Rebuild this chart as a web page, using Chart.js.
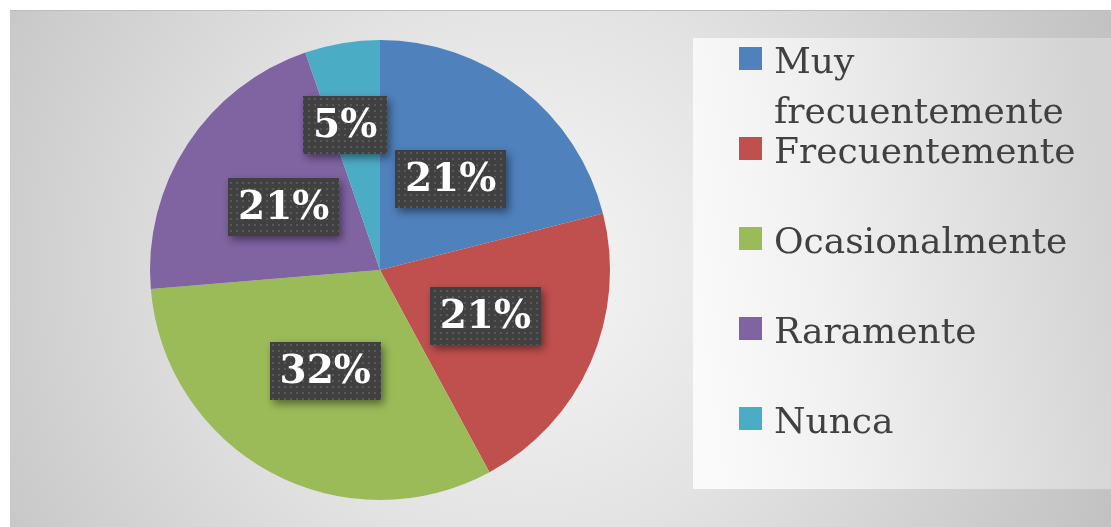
<!DOCTYPE html>
<html>
<head>
<meta charset="utf-8">
<script src="https://cdn.jsdelivr.net/npm/chart.js@4/dist/chart.umd.min.js"></script>
<style>
  html, body { margin: 0; padding: 0; background: #fff; }
  #wrap { width: 1111px; height: 527px; }
</style>
</head>
<body>
<div id="wrap"><canvas id="pie" width="1111" height="527"></canvas></div>
<script>
// data (counts, shown as %)
const categories = ["Muy frecuentemente", "Frecuentemente", "Ocasionalmente", "Raramente", "Nunca"];
const counts = [4, 4, 6, 4, 1];
const colors = ["#4f81bd", "#c0504d", "#9bbb59", "#8064a2", "#4bacc6"];
const labelRadius = [0.5, 0.5, 0.5, 0.5, 0.65];
const labelTurn = [0, 0, 0, 0, -4]; // degrees, small nudge for the thin slice

const total = counts.reduce((a, b) => a + b, 0);

// dotted fill used by the data label boxes
function dotPattern(ctx) {
  const c = document.createElement("canvas");
  c.width = 6; c.height = 6;
  const g = c.getContext("2d");
  g.fillStyle = "#404040";
  g.fillRect(0, 0, 6, 6);
  g.fillStyle = "#595959";
  g.fillRect(2, 2, 2, 2);
  return ctx.createPattern(c, "repeat");
}

const backdrop = {
  id: "backdrop",
  beforeDraw(chart) {
    const ctx = chart.ctx;
    ctx.save();
    ctx.fillStyle = "#fff";
    ctx.fillRect(0, 0, chart.width, chart.height);
    const g = ctx.createRadialGradient(520, 270, 0, 520, 270, 640);
    g.addColorStop(0, "#f6f6f6");
    g.addColorStop(0.45, "#e2e2e2");
    g.addColorStop(1, "#c2c2c2");
    ctx.fillStyle = g;
    ctx.fillRect(10, 10, chart.width - 10, chart.height - 10);
    ctx.fillStyle = "#bdbdbd";
    ctx.fillRect(10, 10, chart.width - 10, 1);
    // legend panel
    const lg = ctx.createLinearGradient(693, 300, 1111, 240);
    lg.addColorStop(0, "#fafafa");
    lg.addColorStop(0.3, "#f1f1f1");
    lg.addColorStop(1, "#d3d3d3");
    ctx.fillStyle = lg;
    ctx.fillRect(693, 38, chart.width - 693, 451);
    ctx.restore();
  }
};

const sideLegend = {
  id: "sideLegend",
  afterDraw(chart) {
    const ctx = chart.ctx;
    ctx.save();
    ctx.font = "36px 'DejaVu Serif'";
    ctx.textBaseline = "alphabetic";
    const x0 = 739, tx = 774, maxW = chart.width - tx - 14;
    chart.data.labels.forEach((lab, i) => {
      const base = 73 + 90 * i;
      ctx.fillStyle = colors[i];
      ctx.fillRect(x0, base - 26, 23, 23);
      // simple word wrap
      const words = lab.split(" ");
      const lines = [];
      let cur = "";
      words.forEach(w => {
        const t = cur ? cur + " " + w : w;
        if (ctx.measureText(t).width > maxW && cur) { lines.push(cur); cur = w; }
        else cur = t;
      });
      lines.push(cur);
      ctx.fillStyle = "#404040";
      lines.forEach((ln, k) => ctx.fillText(ln, tx, base + 50 * k));
    });
    ctx.restore();
  }
};

const boxLabels = {
  id: "boxLabels",
  afterDatasetsDraw(chart) {
    const ctx = chart.ctx;
    const meta = chart.getDatasetMeta(0);
    const pat = dotPattern(ctx);
    ctx.save();
    ctx.font = "bold 39px 'DejaVu Serif'";
    ctx.textAlign = "center";
    ctx.textBaseline = "middle";
    meta.data.forEach((arc, i) => {
      const p = arc.getProps(["x", "y", "startAngle", "endAngle", "outerRadius"], true);
      const mid = (p.startAngle + p.endAngle) / 2 + labelTurn[i] * Math.PI / 180;
      const r = p.outerRadius * labelRadius[i];
      const cx = p.x + Math.cos(mid) * r;
      const cy = p.y + Math.sin(mid) * r;
      const txt = Math.round(counts[i] / total * 100) + "%";
      const w = ctx.measureText(txt).width + 20;
      const h = 58;
      ctx.save();
      ctx.shadowColor = "rgba(0,0,0,0.45)";
      ctx.shadowBlur = 8;
      ctx.shadowOffsetX = 3;
      ctx.shadowOffsetY = 4;
      ctx.fillStyle = pat;
      ctx.fillRect(Math.round(cx - w / 2), Math.round(cy - h / 2), Math.round(w), h);
      ctx.restore();
      ctx.fillStyle = "#ffffff";
      ctx.fillText(txt, cx, cy + 2);
    });
    ctx.restore();
  }
};

new Chart(document.getElementById("pie").getContext("2d"), {
  type: "pie",
  data: {
    labels: categories,
    datasets: [{ data: counts, backgroundColor: colors, borderWidth: 0, hoverOffset: 0 }]
  },
  options: {
    responsive: false,
    devicePixelRatio: 1,
    animation: false,
    layout: { padding: { left: 150, right: 501, top: 40, bottom: 27 } },
    plugins: { legend: { display: false }, tooltip: { enabled: false } }
  },
  plugins: [backdrop, boxLabels, sideLegend]
});
</script>
</body>
</html>
